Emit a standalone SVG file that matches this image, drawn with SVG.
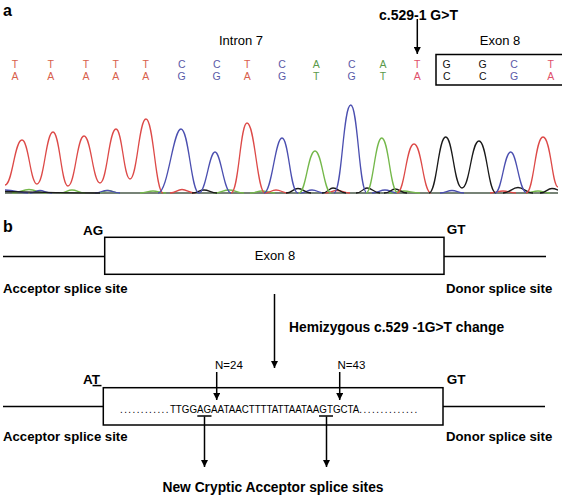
<svg xmlns="http://www.w3.org/2000/svg" width="568" height="496" viewBox="0 0 568 496">
<defs>
<style>
text{font-family:"Liberation Sans",Arial,sans-serif;fill:#000}
.b{font-weight:bold}
.lbl{font-size:16px;font-weight:bold}
.base{font-size:10.5px;text-anchor:middle}
.r{fill:#d8604c}.u{fill:#5a5aa8}.g{fill:#5a9a4a}.p{fill:#e0506a}.k{fill:#111}
.box{fill:none;stroke:#000;stroke-width:1.5}
.ln{stroke:#000;stroke-width:1.5;fill:none}
.arr{stroke:#000;stroke-width:1.5;fill:none;marker-end:url(#ah)}
.tr{fill:none;stroke-width:1.3;stroke-linejoin:round}
.tR{stroke:#dd4a48}.tB{stroke:#4b4fb0}.tG{stroke:#74b84a}.tK{stroke:#1a1a1a}
.seq{font-size:11.5px}
</style>
<marker id="ah" viewBox="0 0 10 10" refX="10" refY="5" markerWidth="10" markerHeight="7" orient="auto" markerUnits="userSpaceOnUse">
<path d="M0,0 L10,5 L0,10 z" fill="#000"/>
</marker>
</defs>

<g id="panel-a">
<text class="lbl" x="3" y="16">a</text>
<text x="241" y="45" font-size="13" text-anchor="middle">Intron 7</text>
<text class="b" x="418.5" y="20" font-size="14" text-anchor="middle">c.529-1 G&gt;T</text>
<text x="500" y="45" font-size="13" text-anchor="middle">Exon 8</text>
<path class="box" d="M562,54.5 H436 V85 H562"/>
<g id="bases">
<text class="base r" x="15" y="68">T</text><text class="base r" x="15" y="80">A</text>
<text class="base r" x="50.7" y="68">T</text><text class="base r" x="50.7" y="80">A</text>
<text class="base r" x="86" y="68">T</text><text class="base r" x="86" y="80">A</text>
<text class="base r" x="115.7" y="68">T</text><text class="base r" x="115.7" y="80">A</text>
<text class="base r" x="145.7" y="68">T</text><text class="base r" x="145.7" y="80">A</text>
<text class="base u" x="181.7" y="68">C</text><text class="base u" x="181.7" y="80">G</text>
<text class="base u" x="216.7" y="68">C</text><text class="base u" x="216.7" y="80">G</text>
<text class="base r" x="247.3" y="68">T</text><text class="base r" x="247.3" y="80">A</text>
<text class="base u" x="282" y="68">C</text><text class="base u" x="282" y="80">G</text>
<text class="base g" x="316.3" y="68">A</text><text class="base g" x="316.3" y="80">T</text>
<text class="base u" x="351.7" y="68">C</text><text class="base u" x="351.7" y="80">G</text>
<text class="base g" x="383" y="68">A</text><text class="base g" x="383" y="80">T</text>
<text class="base p" x="417.3" y="68">T</text><text class="base p" x="417.3" y="80">A</text>
<text class="base k" x="446.7" y="68">G</text><text class="base k" x="446.7" y="80">C</text>
<text class="base k" x="482.7" y="68">G</text><text class="base k" x="482.7" y="80">C</text>
<text class="base u" x="514" y="68">C</text><text class="base u" x="514" y="80">G</text>
<text class="base p" x="550.7" y="68">T</text><text class="base p" x="550.7" y="80">A</text>
</g>
<g id="chromatogram">
<line x1="5" y1="193" x2="558" y2="193" stroke="#4a5a4a" stroke-width="1.4"/>
<path class="tr tG" d="M12,193 C20,193 22,189.5 29,189.5 C36,189.5 38,193 46,193 M60,193 C66,193 67,190 72,190 C77,190 79,193 85,193 M98,193 C103,193 104,190.5 108,190.5 C112,190.5 114,193 119,193 M140,193 C146,193 148,191 153,191 C158,191 160,193 166,193 M214,193 C221,193 223,190 229,190 C235,190 237,193 244,193 M250,193 C256,193 257,191 262,191 C267,191 269,193 275,193 M389,193 C396,193 398,191 404,191 C410,191 412,193 420,193 M525,193 C531,193 533,191 538,191 C543,191 545,193 550,193"/>
<path class="tr tB" d="M5,190 C15,190 20,193 28,193 M30,193 C35,193 36,190.5 40,190.5 C44,190.5 46,193 52,193 M95,193 C101,193 102,190.5 107,190.5 C112,190.5 114,193 120,193 M300,193 C306,193 307,190 312,190 C317,190 319,193 324,193 M372,193 C378,193 380,190 385,190 C390,190 392,193 398,193 M440,193 C446,193 447,190.5 452,190.5 C457,190.5 458,193 464,193"/>
<path class="tr tR" d="M170,193 C176,193 177,189.5 182,189.5 C187,189.5 189,193 195,193 M265,193 C270,193 271,190 276,190 C281,190 283,193 288,193 M325,193 C331,193 332,190.5 337,190.5 C342,190.5 344,193 350,193 M490,193 C496,193 498,191 503,191 C508,191 510,193 516,193"/>
<path class="tr tK" d="M5,191.5 C30,192 60,193 100,193 M192,193 C198,193 199,190 204,190 C209,190 211,193 217,193 M286,193 C292,193 293,188.5 298,188.5 C303,188.5 305,193 311,193 M322,193 C328,193 329,188 333,188 C338,188 340,193 346,193 M356,193 C362,193 363,188 367,188 C372,188 374,193 380,193 M384,193 C390,193 391,189 395,189 C400,189 401,193 407,193 M503,193 C510,193 512,187.5 518,187.5 C524,187.5 526,193 533,193 M540,193 C546,193 547,188.5 552,188.5 C556,188.5 557,190 558,190"/>
<path class="tr tR" d="M5,185 C12.6,185 14.4,140 22,140 C28.8,140 30.2,184 37,184 C44.2,184 45.8,132 53,132 C59.8,132 61.2,186 68,186 C75.2,186 76.8,136 84,136 C91.2,136 92.8,183 100,183 C107.2,183 108.8,129 116,129 C122.3,129 123.7,179 130,179 C137.2,179 138.8,119 146,119 C153.6,119 155.4,193 163,193"/>
<path class="tr tB" d="M158,193 C168,193 173,129 181,129 C189,129 191,193 199,193 C206,193 209,152 215,152 C221,152 224,193 231,193"/>
<path class="tr tR" d="M231,193 C239,193 240,123 247,123 C255,123 257,193 265,193"/>
<path class="tr tB" d="M264,193 C272,193 275,138 282,138 C289,138 290,193 298,193"/>
<path class="tr tG" d="M299,193 C306,193 308,151 315,151 C322,151 324,193 331,193"/>
<path class="tr tB" d="M334,193 C342,193 343,105 350.7,105 C358,105 359,193 367,193"/>
<path class="tr tG" d="M366,193 C373,193 375,138 381.7,138 C389,138 390,193 398,193"/>
<path class="tr tR" d="M397,193 C405,193 406,144 414,144 C422,144 423,193 431,193"/>
<path class="tr tK" d="M429,193 C437,193 438,137 445.7,137 C453,137 454,188 462,188 C470,188 471,141 479,141 C487,141 488,193 496,193"/>
<path class="tr tB" d="M495,193 C502,193 504,152 510.7,152 C517,152 519,193 527,193"/>
<path class="tr tR" d="M526,193 C534,193 535,137 543,137 C551,137 552,187 558,187"/>
</g>
</g>

<g id="panel-b">
<text class="lbl" x="3" y="232">b</text>

<g id="node-exon-normal">
<text class="b" x="83" y="235" font-size="13.5">AG</text>
<text class="b" x="446.7" y="234" font-size="13.5">GT</text>
<rect class="box" x="104.7" y="237.3" width="339.3" height="37"/>
<text x="275" y="260" font-size="13" text-anchor="middle">Exon 8</text>
<text class="b" x="3" y="293" font-size="13.2">Acceptor splice site</text>
<text class="b" x="446" y="293" font-size="13.2">Donor splice site</text>
</g>

<g id="node-exon-mutant">
<text class="b" x="83" y="383.5" font-size="13.5">AT</text>
<line class="ln" x1="92.5" y1="385.6" x2="101.5" y2="385.6" stroke-width="1.2"/>
<text class="b" x="446.7" y="383.5" font-size="13.5">GT</text>
<rect class="box" x="103.3" y="387.7" width="339.7" height="37.3"/>
<text class="seq" transform="translate(120,413) scale(0.85,1)" x="0" y="0"><tspan letter-spacing="1.7">............</tspan>TTGGAGAATAACTTTTATTAATAAGTGCTA<tspan letter-spacing="1.8">..............</tspan></text>
<line class="ln" x1="197.3" y1="416" x2="211.5" y2="416" stroke-width="1"/>
<line class="ln" x1="319" y1="416" x2="333" y2="416" stroke-width="1"/>
<text x="215" y="369" font-size="11.5">N=24</text>
<text x="337.5" y="369" font-size="11.5">N=43</text>
<text class="b" x="3" y="441" font-size="13.2">Acceptor splice site</text>
<text class="b" x="446" y="441" font-size="13.2">Donor splice site</text>
</g>

<text class="b" x="289" y="331.5" font-size="13.8">Hemizygous c.529 -1G&gt;T change</text>
<text class="b" x="273" y="491.5" font-size="13.8" text-anchor="middle">New Cryptic Acceptor splice sites</text>
</g>

<g id="connectors">
<line class="arr" x1="417.3" y1="19" x2="417.3" y2="54"/>
<line class="ln" x1="3" y1="256.5" x2="104.7" y2="256.5"/>
<line class="ln" x1="444" y1="256.5" x2="546" y2="256.5"/>
<line class="arr" x1="274.5" y1="294" x2="274.5" y2="368"/>
<line class="ln" x1="3" y1="406.5" x2="103.3" y2="406.5"/>
<line class="ln" x1="443" y1="406.5" x2="545" y2="406.5"/>
<line class="arr" x1="216.7" y1="372" x2="216.7" y2="400"/>
<line class="arr" x1="339.7" y1="372" x2="339.7" y2="400"/>
<line class="arr" x1="204.5" y1="416.5" x2="204.5" y2="467"/>
<line class="arr" x1="326.5" y1="416.5" x2="326.5" y2="467"/>
</g>
</svg>
